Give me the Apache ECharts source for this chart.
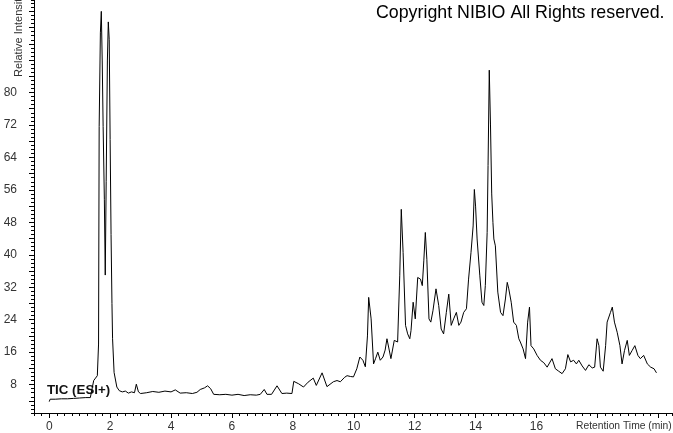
<!DOCTYPE html>
<html>
<head>
<meta charset="utf-8">
<script src="https://cdn.jsdelivr.net/npm/echarts@6/dist/echarts.min.js"></script>
<style>
html,body{margin:0;padding:0;background:#fff;}
#chart{width:673px;height:433px;}
</style>
</head>
<body>
<div id="chart"></div>
<script>
// Retention time (min)
var times = [0.00,0.03,0.2,0.4,0.6,0.8,1.0,1.2,1.35,1.41,1.46,1.52,1.58,1.62,1.64,1.68,1.71,1.74,1.77,1.81,1.84,1.87,1.91,1.94,1.97,2.00,2.03,2.06,2.08,2.13,2.22,2.3,2.4,2.5,2.6,2.7,2.8,2.86,2.93,3.0,3.2,3.4,3.6,3.8,4.0,4.14,4.3,4.5,4.7,4.85,4.96,5.1,5.2,5.3,5.4,5.6,5.8,6.0,6.2,6.4,6.6,6.8,6.93,7.06,7.15,7.3,7.48,7.64,7.8,7.97,8.03,8.19,8.35,8.5,8.67,8.77,8.96,9.12,9.33,9.45,9.56,9.7,9.78,9.89,9.99,10.1,10.2,10.3,10.38,10.45,10.49,10.57,10.65,10.72,10.79,10.87,10.96,11.03,11.09,11.22,11.33,11.44,11.51,11.56,11.62,11.7,11.77,11.84,11.88,11.95,12.02,12.1,12.19,12.25,12.3,12.35,12.4,12.47,12.53,12.6,12.7,12.79,12.87,12.95,13.04,13.12,13.2,13.28,13.37,13.45,13.52,13.61,13.7,13.77,13.85,13.92,13.96,14.0,14.05,14.14,14.21,14.27,14.32,14.38,14.41,14.45,14.49,14.53,14.57,14.6,14.65,14.73,14.82,14.9,14.98,15.04,15.09,15.17,15.25,15.34,15.42,15.47,15.56,15.64,15.71,15.77,15.82,15.91,16.02,16.13,16.24,16.35,16.51,16.62,16.73,16.84,16.95,17.03,17.12,17.22,17.31,17.39,17.5,17.61,17.72,17.83,17.91,17.99,18.05,18.1,18.19,18.27,18.32,18.43,18.49,18.56,18.65,18.74,18.81,18.89,18.98,19.05,19.14,19.23,19.33,19.41,19.52,19.64,19.75,19.86,19.94];
// Relative intensity
var intensity = [3.8,4.4,4.4,4.5,4.5,4.6,4.7,4.8,4.8,5.2,9.0,9.6,10.2,18,71.6,94.7,100,88,71.6,53.7,35,58,88,97.4,93,68.4,45,28,19.3,11,7.4,6.5,6.2,6.4,5.9,6.2,6.0,8.1,6.2,5.8,6.0,6.3,6.1,6.4,6.2,6.7,5.9,6.0,5.8,6.1,6.8,7.2,7.7,7.0,5.6,5.5,5.6,5.4,5.6,5.3,5.5,5.4,5.6,6.8,5.6,5.6,7.7,5.8,5.9,5.8,8.8,8.2,7.4,8.6,9.6,7.8,10.9,7.5,8.7,9.0,8.7,9.8,10.2,10.0,9.9,11.9,14.8,14.0,12.4,20,29.5,24.2,13.1,14.5,16.0,14.0,14.8,16.5,19.3,14.4,18.9,18.5,34.8,51.2,40.6,22.6,20.5,19.3,21.3,28.3,24.2,34.4,34.0,32.4,38.5,45.5,38.9,24.2,23.4,26.2,31.6,27.5,21.7,20.5,25.8,30.3,22.6,24.2,25.8,22.6,23.4,25.8,26.7,34.0,40.6,47.1,56.1,52.0,43.9,34.8,28.3,27.5,32.4,45.5,62,85.5,72,55,48,43.9,42.2,30.8,25.8,25.0,29.1,33.2,31.6,28.3,23.4,22.6,19.3,18.5,16.8,14.4,23.4,27.1,17.6,16.8,15.2,14.0,13.4,12.3,14.4,11.9,11.3,10.7,11.9,15.4,13.6,14.0,13.1,14.0,12.6,11.5,12.9,12.1,12.3,19.3,17.6,12.3,11.3,17.6,23.4,25.8,27.1,23.4,20.9,17.6,13.1,16.4,18.9,15.2,16.4,17.6,15.2,14.4,15.2,13.1,12.3,11.9,10.9];
// Tick labels
var xLabelValues = [0,2,4,6,8,10,12,14,16];
var xMajorTicks = [0,2,4,6,8,10,12,14,16,18,20];
var yLabelValues = [8,16,24,32,40,48,56,64,72,80];
var yMajorTicks = [4,8,12,16,20,24,28,32,36,40,44,48,52,56,60,64,68,72,76,80,84,88,92,96,100];

var seriesData = times.map(function(t,i){return [t,intensity[i]];});

var chart = echarts.init(document.getElementById('chart'), null, {renderer:'canvas'});
var FONT = '"Liberation Sans", Arial, sans-serif';
var XMIN = -0.5, XMAX = 20.45, YMIN = 1, YMAX = 102.8;

chart.setOption({
  animation:false,
  backgroundColor:'#fff',
  grid:{left:34,right:1,top:0,bottom:19,containLabel:false},
  xAxis:[{
    type:'value', min:XMIN, max:XMAX, position:'bottom',
    axisLine:{show:true,onZero:false,lineStyle:{color:'#000',width:1}},
    axisTick:{show:true,length:5,customValues:xMajorTicks,lineStyle:{color:'#000'}},
    axisLabel:{show:true,customValues:xLabelValues,margin:8,color:'#333',fontSize:12,fontFamily:FONT},
    splitLine:{show:false}
  },{
    type:'value', min:XMIN, max:XMAX, interval:0.25, position:'bottom',
    axisLine:{show:false,onZero:false},
    axisTick:{show:true,length:3,lineStyle:{color:'#000'}},
    axisLabel:{show:false},
    splitLine:{show:false}
  }],
  yAxis:[{
    type:'value', min:YMIN, max:YMAX, position:'left',
    axisLine:{show:true,onZero:false,lineStyle:{color:'#000',width:1}},
    axisTick:{show:true,length:5,customValues:yMajorTicks,lineStyle:{color:'#000'}},
    axisLabel:{show:true,customValues:yLabelValues,margin:17,color:'#333',fontSize:12,fontFamily:FONT},
    splitLine:{show:false}
  },{
    type:'value', min:YMIN, max:YMAX, interval:1, position:'left',
    axisLine:{show:false,onZero:false},
    axisTick:{show:true,length:3,lineStyle:{color:'#000'}},
    axisLabel:{show:false},
    splitLine:{show:false}
  }],
  series:[{
    type:'line', xAxisIndex:0, yAxisIndex:0,
    data:seriesData, showSymbol:false, symbol:'none', smooth:false,
    lineStyle:{color:'#000',width:1}
  }],
  graphic:[
    {type:'text', left:376, top:4, style:{text:'Copyright NIBIO All Rights reserved.', fill:'#000', font:'17.8px '+FONT}},
    {type:'text', left:47, top:384, style:{text:'TIC (ESI+)', fill:'#111', font:'bold 13.3px '+FONT}},
    {type:'text', left:576, top:421, style:{text:'Retention Time (min)', fill:'#333', font:'10.3px '+FONT}},
    {type:'text', x:13, y:77, rotation:Math.PI/2, style:{text:'Relative Intensity', fill:'#333', font:'11px '+FONT, textAlign:'left', textVerticalAlign:'top'}}
  ]
});
</script>
</body>
</html>
